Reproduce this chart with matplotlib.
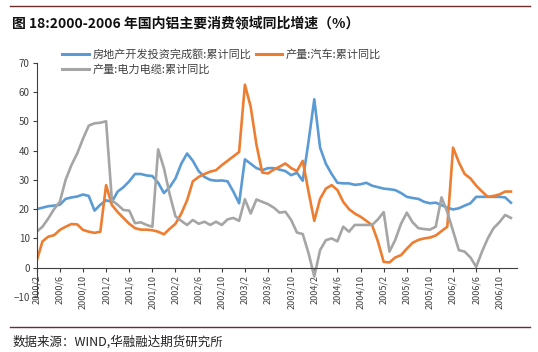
import numpy as np
import matplotlib as mpl
mpl.use('Agg')
import matplotlib.pyplot as plt
from matplotlib.lines import Line2D

plt.rcParams['font.family'] = ['Noto Sans CJK SC', 'DejaVu Sans']

# 2000/2 .. 2006/12, monthly
tick_labels = ['2000/2', '2000/6', '2000/10', '2001/2', '2001/6', '2001/10',
               '2002/2', '2002/6', '2002/10', '2003/2', '2003/6', '2003/10',
               '2004/2', '2004/6', '2004/10', '2005/2', '2005/6', '2005/10',
               '2006/2', '2006/6', '2006/10']

# 房地产开发投资完成额:累计同比
realestate = [20.0, 20.5, 21.0, 21.2, 21.5, 23.5, 24.0, 24.3, 25.0, 24.5,
              19.5, 21.5, 23.0, 22.5, 26.0, 27.5, 29.5, 32.0, 32.0, 31.5,
              31.3, 29.0, 25.5, 27.5, 30.5, 35.5, 39.0, 36.5, 33.0, 31.0,
              30.0, 29.7, 29.8, 29.5, 26.0, 22.0, 37.0, 35.5, 34.0, 33.3,
              34.0, 34.0, 33.5, 33.0, 31.6, 32.4, 29.7, 43.0, 57.5, 41.0,
              35.5, 32.0, 29.0, 28.8, 28.8, 28.3, 28.5, 29.0, 28.0, 27.5,
              27.0, 26.8, 26.5, 25.5, 24.2, 23.8, 23.5, 22.5, 22.0, 22.2,
              21.4, 20.5, 19.9, 20.3, 21.2, 22.0, 24.2, 24.2, 24.2, 24.2,
              24.2, 24.0, 22.2]

# 产量:汽车:累计同比
autos = [2.4, 9.0, 10.6, 11.1, 12.9, 14.0, 14.9, 14.8, 12.9, 12.3,
         11.9, 12.3, 28.2, 21.4, 19.0, 17.0, 15.0, 13.5, 13.0, 13.0,
         12.8, 12.3, 11.4, 13.3, 15.0, 18.5, 23.0, 29.5, 31.0, 32.0,
         32.8, 33.3, 35.0, 36.5, 38.0, 39.5, 62.5, 55.0, 42.0, 32.5,
         32.2, 33.5, 34.5, 35.6, 34.0, 33.0, 36.5, 26.0, 16.0, 23.5,
         27.0, 28.2, 26.5, 22.5, 20.0, 18.5, 17.4, 16.0, 14.5, 9.0,
         2.0, 1.8, 3.5, 4.3, 6.5, 8.5, 9.5, 10.0, 10.3, 11.0,
         12.5, 14.0, 41.0, 36.0, 32.0, 30.5, 28.0, 26.0, 24.2, 24.5,
         25.0, 26.0, 26.0]

# 产量:电力电缆:累计同比
cables = [12.3, 14.0, 16.8, 20.0, 22.5, 30.0, 35.0, 39.0, 44.0, 48.5,
          49.3, 49.5, 50.0, 23.0, 21.5, 19.7, 19.5, 15.2, 15.5, 14.6,
          14.0, 40.4, 34.0, 25.0, 17.5, 16.0, 14.6, 16.3, 15.0, 15.7,
          14.6, 15.7, 14.6, 16.5, 17.0, 16.0, 23.4, 18.5, 23.3, 22.5,
          21.7, 20.5, 18.8, 19.1, 16.3, 12.0, 11.5, 5.0, -3.0, 6.0,
          9.4, 10.0, 9.0, 14.0, 12.3, 14.6, 14.6, 14.6, 14.6, 16.5,
          19.0, 5.5, 9.5, 15.0, 18.8, 15.5, 13.5, 13.2, 13.0, 14.0,
          24.0, 19.0, 12.5, 6.0, 5.5, 3.5, 0.3, 5.5, 10.0, 13.5,
          15.5, 18.0, 17.0]

names = ['房地产开发投资完成额:累计同比', '产量:汽车:累计同比', '产量:电力电缆:累计同比']
colors = ['#5B9BD5', '#ED7D31', '#A5A5A5']

fig = plt.figure(figsize=(5.38, 3.52), dpi=100)
ax = fig.add_axes([36.7/538, 1-297/352, (516.7-36.7)/538, (297-62.7)/352])

x = np.arange(len(realestate))
for vals, c, n in zip([realestate, autos, cables], colors, names):
    ax.plot(x, vals, color=c, lw=1.9, label=n, solid_joinstyle='round')

ax.set_xlim(0, 83)
ax.set_ylim(-10, 70)
ax.set_yticks(range(-10, 71, 10))
ax.set_xticks(np.arange(0, 4*len(tick_labels), 4))
ax.set_xticklabels(tick_labels)

for s in ['top', 'right']:
    ax.spines[s].set_visible(False)
ax.spines['bottom'].set_position(('data', 0))
ax.spines['left'].set_color('#404040')
ax.spines['bottom'].set_color('#404040')
ax.tick_params(axis='both', labelsize=7, colors='#404040', length=3, width=0.8, pad=2)
ax.tick_params(axis='x', labelsize=6.5, labelrotation=90)

# legend: two columns, blue & gray in first column, orange in second
h = [Line2D([], [], color=c, lw=2.2) for c in colors]
leg = fig.legend([h[0], h[2], h[1]], [names[0], names[2], names[1]], ncol=2,
                 loc='upper left', bbox_to_anchor=(58/538, 1-45/352), frameon=False,
                 fontsize=8, handlelength=2.4, handletextpad=0.3,
                 columnspacing=0.4, labelspacing=0.35, borderaxespad=0)
for t in leg.get_texts():
    t.set_color('#404040')

# title, rules and source note
fig.add_artist(Line2D([10/538, 530/538], [1-6/352, 1-6/352], color='#6E2C2C', lw=1.0))
fig.add_artist(Line2D([10/538, 530/538], [1-326.7/352, 1-326.7/352], color='#6E2C2C', lw=1.0))
fig.text(12/538, 1-23/352, '图 18:2000-2006 年国内铝主要消费领域同比增速（%）',
         fontsize=10, fontweight='bold', va='center', ha='left', color='#111111')
fig.text(13/538, 1-341.5/352, '数据来源：WIND,华融融达期货研究所',
         fontsize=9, va='center', ha='left', color='#222222')

plt.savefig('out.png', dpi=100)
